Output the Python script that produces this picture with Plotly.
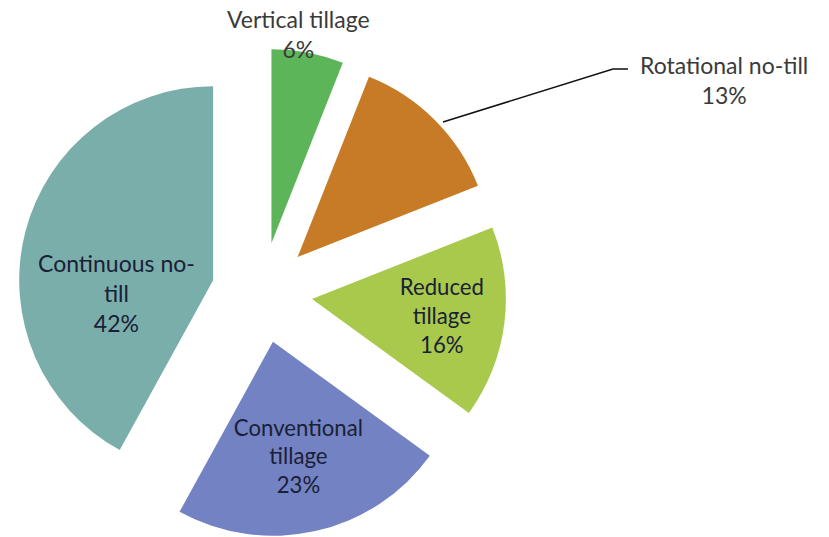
import plotly.graph_objects as go

categories = ["Vertical tillage", "Rotational no-till", "Reduced tillage",
              "Conventional tillage", "Continuous no-till"]
values = [6, 13, 16, 23, 42]
label_text = ["Vertical tillage", "Rotational no-till", "Reduced<br>tillage",
              "Conventional<br>tillage", "Continuous no-<br>till"]
colors = ["#5db55a", "#c87b26", "#a9c94c", "#7282c2", "#79aeab"]

W, H = 829, 537
FONT = "Lato"
total = sum(values)
pct = [f"{round(v * 100 / total)}%" for v in values]

# slices labelled inside by Plotly itself
inside_idx = {2, 3}
inside_text = [f"{label_text[i]}<br>{pct[i]}" if i in inside_idx else ""
               for i in range(len(values))]

fig = go.Figure(go.Pie(
    labels=categories,
    values=values,
    text=inside_text,
    textinfo="text",
    textposition="inside",
    insidetextorientation="horizontal",
    sort=False,
    direction="clockwise",
    rotation=0,
    pull=[0.26] * len(values),
    marker=dict(colors=colors, line=dict(width=0)),
    textfont=dict(family=FONT, size=23, color="#1a2036"),
    domain=dict(x=[0.02, 0.612], y=[0.0, 0.91]),
    showlegend=False,
    hoverinfo="label+percent",
))

def px(x, y):
    return x / W, 1 - y / H

def label_ann(i, x, y, color):
    ax, ay = px(x, y)
    return dict(x=ax, y=ay, xref="paper", yref="paper", showarrow=False,
                xanchor="center", yanchor="middle",
                text=f"{label_text[i]}<br>{pct[i]}", align="center",
                font=dict(family=FONT, size=23, color=color))

annotations = [
    label_ann(0, 298, 34, "#3a3a3a"),      # Vertical tillage, above slice
    label_ann(1, 724, 80, "#3a3a3a"),      # Rotational no-till, with leader line
    label_ann(4, 116, 293, "#1a2036"),     # Continuous no-till, inside
]

x0, y0 = px(443, 122)
x1, y1 = px(613, 69)
x2, y2 = px(628, 69)
shapes = [dict(type="path", xref="paper", yref="paper",
               path=f"M {x0},{y0} L {x1},{y1} L {x2},{y2}",
               line=dict(color="#111111", width=1.5))]

fig.update_layout(
    width=W, height=H,
    margin=dict(l=0, r=0, t=0, b=0),
    paper_bgcolor="white",
    plot_bgcolor="white",
    annotations=annotations,
    shapes=shapes,
    uniformtext=dict(minsize=14, mode="show"),
)

fig.write_html("out.html")
